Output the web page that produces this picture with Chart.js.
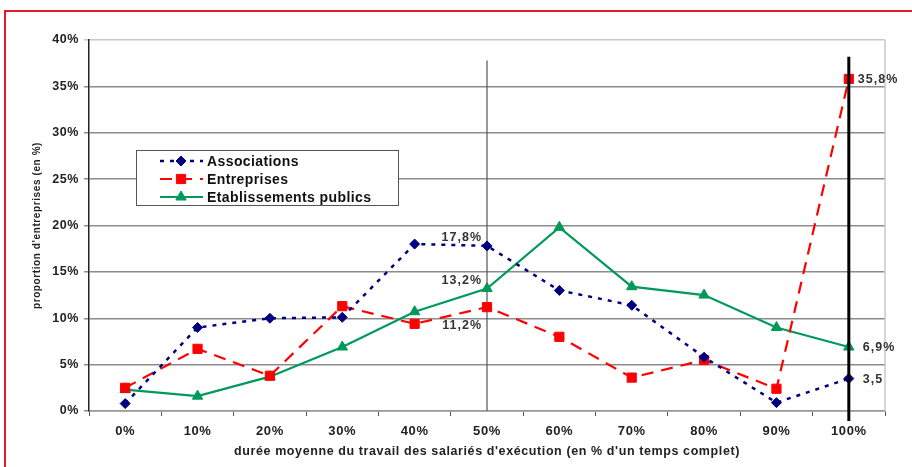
<!DOCTYPE html>
<html>
<head>
<meta charset="utf-8">
<script src="https://cdn.jsdelivr.net/npm/chart.js@4/dist/chart.umd.min.js"></script>
<style>
html,body{margin:0;padding:0;background:#fff;overflow:hidden;}
#wrap{position:relative;width:912px;height:467px;}
#frame{position:absolute;left:4px;top:10px;width:1200px;height:1200px;border-left:2px solid #e8192c;border-top:2px solid #e8192c;}
canvas{position:absolute;left:0;top:0;}
</style>
</head>
<body>
<div id="wrap">
<div id="frame"></div>
<canvas id="c" width="912" height="467"></canvas>
</div>
<script>
const categories = ['0%','10%','20%','30%','40%','50%','60%','70%','80%','90%','100%'];
const associations = [0.8, 9.0, 10.0, 10.1, 18.0, 17.8, 13.0, 11.4, 5.8, 0.9, 3.5];
const entreprises = [2.5, 6.7, 3.8, 11.3, 9.4, 11.2, 8.0, 3.6, 5.5, 2.4, 35.8];
const etablissements = [2.3, 1.6, 3.7, 6.9, 10.7, 13.2, 19.8, 13.4, 12.5, 9.0, 6.9];
const yTicks = [0, 5, 10, 15, 20, 25, 30, 35, 40];
const seriesNames = ['Associations', 'Entreprises', 'Etablissements publics'];
// data labels: [datasetIndex, categoryIndex, text]
const dataLabels = [
  [0, 5, '17,8%'],
  [2, 5, '13,2%'],
  [1, 5, '11,2%'],
  [1, 10, '35,8%'],
  [2, 10, '6,9%'],
  [0, 10, '3,5']
];

const FONT = "'Liberation Sans', Arial, sans-serif";
const SPACING = '0.6px';

const spacingPlugin = {
  id: 'spacing',
  beforeUpdate(chart) { chart.ctx.letterSpacing = SPACING; },
  beforeDraw(chart) { chart.ctx.letterSpacing = SPACING; }
};

const decoPlugin = {
  id: 'deco',
  beforeDatasetsDraw(chart) {
    const {ctx, chartArea, scales} = chart;
    const x = scales.x, y = scales.y;
    ctx.save();
    ctx.strokeStyle = '#c8c8c8';
    ctx.lineWidth = 1.5;
    ctx.beginPath();
    ctx.moveTo(chartArea.right, chartArea.top);
    ctx.lineTo(chartArea.right, chartArea.bottom);
    ctx.stroke();
    const x50 = x.getPixelForValue(categories.indexOf('50%'));
    ctx.strokeStyle = '#555';
    ctx.lineWidth = 1.2;
    ctx.beginPath();
    ctx.moveTo(x50, y.getPixelForValue(37.8));
    ctx.lineTo(x50, chartArea.bottom);
    ctx.stroke();
    ctx.restore();
  },
  afterDatasetsDraw(chart) {
    const {ctx, chartArea, scales} = chart;
    const x = scales.x, y = scales.y;
    ctx.save();
    const x100 = x.getPixelForValue(categories.indexOf('100%'));
    ctx.strokeStyle = '#000';
    ctx.lineWidth = 3;
    ctx.beginPath();
    ctx.moveTo(x100, y.getPixelForValue(38.2));
    ctx.lineTo(x100, chartArea.bottom + 10);
    ctx.stroke();
    // data labels
    ctx.letterSpacing = '1px';
    ctx.font = 'bold 12.5px ' + FONT;
    ctx.fillStyle = '#333';
    ctx.textBaseline = 'middle';
    dataLabels.forEach(([di, ci, txt]) => {
      const pt = chart.getDatasetMeta(di).data[ci];
      if (ci === categories.length - 1) {
        ctx.textAlign = 'left';
        ctx.fillText(txt, pt.x + (di === 1 ? 9 : 14), pt.y + 1);
      } else {
        ctx.textAlign = 'right';
        const dy = di === 1 ? 18 : -8;
        ctx.fillText(txt, pt.x - 5, pt.y + dy);
      }
    });
    // legend
    const lx = 136, ly = 150, lw = 262, lh = 55;
    ctx.fillStyle = '#fff';
    ctx.fillRect(lx, ly, lw, lh);
    ctx.strokeStyle = '#555';
    ctx.lineWidth = 1;
    ctx.strokeRect(lx + 0.5, ly + 0.5, lw, lh);
    ctx.letterSpacing = '0.4px';
    chart.data.datasets.forEach((ds, i) => {
      const rowY = ly + 11 + i * 18;
      ctx.save();
      ctx.strokeStyle = ds.borderColor;
      ctx.lineWidth = ds.borderWidth;
      ctx.setLineDash(ds.borderDash || []);
      ctx.beginPath();
      ctx.moveTo(160, rowY);
      ctx.lineTo(203, rowY);
      ctx.stroke();
      ctx.restore();
      ctx.save();
      ctx.fillStyle = ds.pointBackgroundColor;
      ctx.strokeStyle = ds.pointBorderColor;
      ctx.lineWidth = 1;
      Chart.helpers.drawPoint(ctx, {
        pointStyle: ds.pointStyle, radius: ds.pointRadius, borderWidth: 1, rotation: 0
      }, 181, rowY);
      ctx.restore();
      ctx.fillStyle = '#111';
      ctx.font = 'bold 14px ' + FONT;
      ctx.textAlign = 'left';
      ctx.textBaseline = 'middle';
      ctx.fillText(seriesNames[i], 207, rowY + 1);
    });
    ctx.restore();
  }
};

new Chart(document.getElementById('c'), {
  type: 'line',
  data: {
    labels: categories,
    datasets: [
      {
        label: seriesNames[0], data: associations,
        borderColor: '#000080', backgroundColor: '#000080',
        borderWidth: 2.5, borderDash: [4, 6],
        pointStyle: 'rectRot', pointRadius: 5, pointBorderWidth: 1,
        pointBackgroundColor: '#000080', pointBorderColor: '#000080', tension: 0
      },
      {
        label: seriesNames[1], data: entreprises,
        borderColor: '#ff0000', backgroundColor: '#ff0000',
        borderWidth: 2.2, borderDash: [12, 8],
        pointStyle: 'rect', pointRadius: 6.5, pointBorderWidth: 1,
        pointBackgroundColor: '#ff0000', pointBorderColor: '#ff0000', tension: 0
      },
      {
        label: seriesNames[2], data: etablissements,
        borderColor: '#00995a', backgroundColor: '#00995a',
        borderWidth: 2.2,
        pointStyle: 'triangle', pointRadius: 6, pointBorderWidth: 1,
        pointBackgroundColor: '#00995a', pointBorderColor: '#00995a', tension: 0
      }
    ]
  },
  options: {
    responsive: false,
    animation: false,
    devicePixelRatio: 1,
    layout: { padding: { left: 31, top: 40, right: 27, bottom: 8 } },
    plugins: {
      legend: { display: false },
      tooltip: { enabled: false }
    },
    scales: {
      x: {
        type: 'category',
        offset: true,
        grid: {
          offset: true, drawOnChartArea: false, drawTicks: true,
          tickLength: 5, color: '#555', lineWidth: 1
        },
        border: { color: '#999', width: 1.5 },
        ticks: {
          color: '#222', padding: 8, maxRotation: 0, autoSkip: false,
          font: { family: FONT, size: 13, weight: 'bold' }
        },
        title: {
          display: true,
          text: "durée moyenne du travail des salariés d'exécution (en % d'un temps complet)",
          color: '#222',
          padding: 0,
          font: { family: FONT, size: 12.5, weight: 'bold' }
        },
        afterFit(scale) { scale.height = 48; }
      },
      y: {
        min: 0, max: 40,
        afterBuildTicks(scale) { scale.ticks = yTicks.map(v => ({ value: v })); },
        grid: {
          color: ctx => (ctx.tick && ctx.tick.value === 40) ? '#c8c8c8' : '#8c8c8c',
          lineWidth: 1.5, tickLength: 5, drawTicks: true
        },
        border: { color: '#222', width: 1.5 },
        ticks: {
          color: '#222', padding: 5,
          font: { family: FONT, size: 12.5, weight: 'bold' },
          callback: v => v + '%'
        },
        title: {
          display: true,
          text: "proportion d'entreprises (en %)",
          color: '#222',
          padding: 0,
          font: { family: FONT, size: 10, weight: 'bold' }
        },
        afterFit(scale) { scale.width = 58; }
      }
    }
  },
  plugins: [spacingPlugin, decoPlugin]
});
</script>
</body>
</html>
